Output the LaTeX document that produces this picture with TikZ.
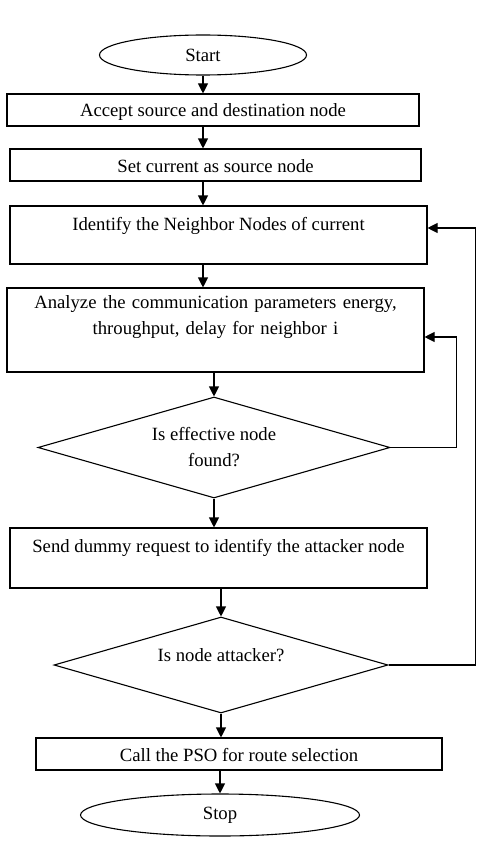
\documentclass[tikz,border=0pt]{standalone}
\usepackage{fontspec}
\setmainfont{Liberation Serif}
\usetikzlibrary{shapes.geometric,arrows.meta,calc}

\tikzset{
	procbox/.style={draw, rectangle, inner sep=0pt, text height=23pt, text depth=9pt, align=center},
	decision/.style={draw, diamond, aspect=3.5, inner sep=0pt, align=center},
	terminal/.style={draw, ellipse, inner sep=0pt},
	arr/.style={-{Triangle[length=10pt,width=10pt]}}
}

\begin{document}
\begin{tikzpicture}[x=1pt, y=-1pt, line width=1.1pt, font=\fontsize{18.7}{26}\selectfont]
	\useasboundingbox (0,0) rectangle (480,856);

	%start and stop
	\node[terminal, minimum width=207pt, minimum height=40pt] (start) at (203,55) {Start};
	\node[terminal, minimum width=279pt, minimum height=42pt] (stop) at (220,815) {Stop};

	%process boxes, top to bottom
	\node[procbox, minimum width=412pt] (accept) at (213,110) {Accept source and destination node};
	\node[procbox, minimum width=411pt] (setcur) at (215.5,165) {Set current as source node};
	\node[procbox, minimum width=417pt, text height=24pt, text depth=34pt] (neigh) at (218.5,235) {Identify the Neighbor Nodes of current};
	\node[procbox, text width=417pt, text height=20pt, text depth=64pt] (analyze) at (215.5,330) {Analyze the communication parameters energy,\\throughput, delay for neighbor i};
	\node[procbox, minimum width=417pt, text height=24pt, text depth=36pt] (dummy) at (218.5,558) {Send dummy request to identify the attacker node};
	\node[procbox, minimum width=406pt] (pso) at (239,754) {Call the PSO for route selection};

	%decisions
	\node[decision, minimum width=352pt, minimum height=101pt] (effect) at (214,447.5) {Is effective node\\found?};
	\node[decision, minimum width=334pt, minimum height=96pt, text height=12pt, text depth=20pt] (attack) at (221,665) {Is node attacker?};

	%main flow, straight down
	\foreach \from/\to/\via in {start/accept/start, accept/setcur/start, setcur/neigh/start, neigh/analyze/start,
		analyze/effect/effect, effect/dummy/effect, dummy/attack/attack, attack/pso/attack, pso/stop/stop}
	{
		\draw[arr] (\via.center |- \from.south) -- (\via.center |- \to.north);
	}

	%loops back on the right
	\draw[arr] (effect.east) -- ++(66,0) |- ($(analyze.east)+(0,7)$);
	\draw[arr] (attack.east) -- ++(87,0) |- ($(neigh.east)+(0,-7)$);

\end{tikzpicture}
\end{document}
